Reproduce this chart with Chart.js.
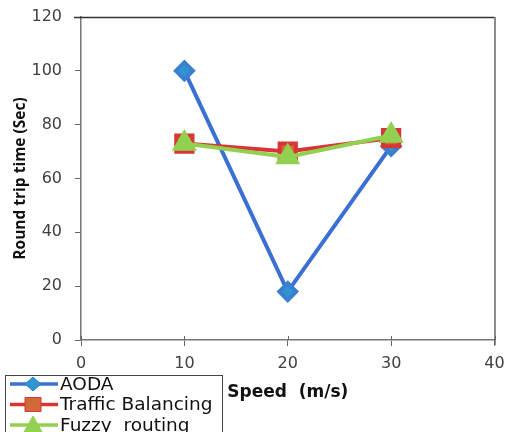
<!DOCTYPE html>
<html>
<head>
<meta charset="utf-8">
<script src="https://cdn.jsdelivr.net/npm/chart.js@4/dist/chart.umd.min.js"></script>
<style>
  html, body { margin: 0; padding: 0; background: #fff; }
  #wrap { width: 510px; height: 432px; position: relative; }
</style>
</head>
<body>
<div id="wrap"><canvas id="rttChart" width="510" height="432"></canvas></div>
<script>
// speeds (m/s) and round trip times (sec)
const speeds = [10, 20, 30];
const aoda = [100, 18, 72];
const trafficBalancing = [73, 70, 75];
const fuzzyRouting = [73, 68, 76];
const seriesNames = ['AODA', 'Traffic Balancing', 'Fuzzy  routing'];
const xTicks = [0, 10, 20, 30, 40];
const yTicks = [0, 20, 40, 60, 80, 100, 120];

const toPoints = vals => vals.map((v, i) => ({ x: speeds[i], y: v }));

// top and right frame lines, plus the small upward part of the x ticks
const frame = {
    id: 'frame',
    afterDraw(chart) {
        const { ctx, chartArea: a } = chart;
        const xs = chart.scales.x;
        ctx.save();
        ctx.lineWidth = 1.5;
        ctx.strokeStyle = '#333';
        ctx.beginPath();
        ctx.moveTo(a.left - 7, a.top + 0.5);
        ctx.lineTo(a.right, a.top + 0.5);
        ctx.stroke();
        ctx.strokeStyle = '#666';
        ctx.beginPath();
        ctx.moveTo(a.right + 0.5, a.top);
        ctx.lineTo(a.right + 0.5, a.bottom + 5);
        ctx.stroke();
        ctx.lineWidth = 1;
        ctx.beginPath();
        xTicks.forEach(v => {
            const px = Math.round(xs.getPixelForValue(v)) + 0.5;
            ctx.moveTo(px, a.bottom - 4);
            ctx.lineTo(px, a.bottom);
        });
        ctx.stroke();
        ctx.restore();
    }
};

// boxed legend sitting in the lower-left corner
const boxLegend = {
    id: 'boxLegend',
    afterDraw(chart) {
        const { ctx } = chart;
        const bx = 5, by = 375, bw = 217, bh = 70;
        ctx.save();
        ctx.fillStyle = '#fff';
        ctx.fillRect(bx, by, bw, bh);
        ctx.strokeStyle = '#444';
        ctx.lineWidth = 1;
        ctx.strokeRect(bx + 0.5, by + 0.5, bw, bh);
        ctx.font = '18.5px "DejaVu Sans", sans-serif';
        ctx.textBaseline = 'middle';
        chart.data.datasets.forEach((ds, i) => {
            const y = 384 + i * 20.5;
            ctx.strokeStyle = ds.borderColor;
            ctx.lineWidth = 3.5;
            ctx.beginPath();
            ctx.moveTo(10, y);
            ctx.lineTo(58, y);
            ctx.stroke();
            ctx.fillStyle = ds.pointBackgroundColor;
            ctx.strokeStyle = ds.pointBorderColor;
            ctx.lineWidth = 1;
            const cx = 33;
            ctx.beginPath();
            if (ds.pointStyle === 'rectRot') {
                ctx.moveTo(cx, y - 7); ctx.lineTo(cx + 8, y); ctx.lineTo(cx, y + 7); ctx.lineTo(cx - 8, y);
            } else if (ds.pointStyle === 'rect') {
                ctx.rect(cx - 8, y - 7, 16, 14);
            } else {
                ctx.moveTo(cx, y - 9); ctx.lineTo(cx + 9, y + 7); ctx.lineTo(cx - 9, y + 7);
            }
            ctx.closePath();
            ctx.fill();
            ctx.stroke();
            ctx.fillStyle = '#111';
            ctx.fillText(ds.label, 60, y + 1);
        });
        ctx.restore();
    }
};

function drawChart() {
    new Chart(document.getElementById('rttChart').getContext('2d'), {
        type: 'line',
        data: {
            datasets: [{
                label: seriesNames[0],
                data: toPoints(aoda),
                borderColor: '#3a6fd3',
                borderWidth: 4,
                pointStyle: 'rectRot',
                pointRadius: 8.5,
                pointHoverRadius: 8.5,
                pointBackgroundColor: '#2e95d3',
                pointBorderColor: '#3a7fd0',
                order: 3
            }, {
                label: seriesNames[1],
                data: toPoints(trafficBalancing),
                borderColor: '#d93535',
                borderWidth: 4,
                pointStyle: 'rect',
                pointRadius: 11.5,
                pointHoverRadius: 11.5,
                pointBackgroundColor: '#d2693a',
                pointBorderColor: '#d93535',
                order: 2
            }, {
                label: seriesNames[2],
                data: toPoints(fuzzyRouting),
                borderColor: '#92d050',
                borderWidth: 4,
                pointStyle: 'triangle',
                pointRadius: 10.5,
                pointHoverRadius: 10.5,
                pointBackgroundColor: '#92d050',
                pointBorderColor: '#92d050',
                order: 1
            }]
        },
        options: {
            responsive: false,
            animation: false,
            layout: { padding: { left: 0, right: 9, top: 17, bottom: 0 } },
            plugins: { legend: { display: false }, tooltip: { enabled: false } },
            scales: {
                x: {
                    type: 'linear',
                    min: 0,
                    max: 40,
                    afterBuildTicks: s => { s.ticks = xTicks.map(v => ({ value: v })); },
                    afterFit: s => { s.height = 92; s.paddingLeft = 0; s.paddingRight = 0; },
                    grid: { drawOnChartArea: false, tickLength: 6, color: '#666' },
                    border: { color: '#777', width: 1.5 },
                    ticks: { color: '#404040', padding: 8, font: { family: 'DejaVu Sans', size: 16 } },
                    title: {
                        display: true,
                        text: 'Speed  (m/s)',
                        color: '#111',
                        font: { family: 'DejaVu Sans', size: 17, weight: 'bold' },
                        padding: { top: 0, bottom: 29 }
                    }
                },
                y: {
                    min: 0,
                    max: 120,
                    afterBuildTicks: s => { s.ticks = yTicks.map(v => ({ value: v })); },
                    afterFit: s => { s.width = 81; s.paddingTop = 0; s.paddingBottom = 0; },
                    grid: { drawOnChartArea: false, tickLength: 6, color: '#666' },
                    border: { color: '#777', width: 1.5 },
                    ticks: { color: '#404040', padding: 13, font: { family: 'DejaVu Sans', size: 16 } },
                    title: {
                        display: true,
                        text: 'Round trip time (Sec)',
                        color: '#111',
                        font: { family: 'Open Sans', size: 15.5, weight: 'bold' },
                        padding: { top: 11, bottom: 0 }
                    }
                }
            }
        },
        plugins: [frame, boxLegend]
    });
}

Promise.all([
    document.fonts.load('bold 15.5px "Open Sans"'),
    document.fonts.load('16px "DejaVu Sans"'),
    document.fonts.load('bold 17px "DejaVu Sans"')
]).then(drawChart, drawChart);
</script>
</body>
</html>
